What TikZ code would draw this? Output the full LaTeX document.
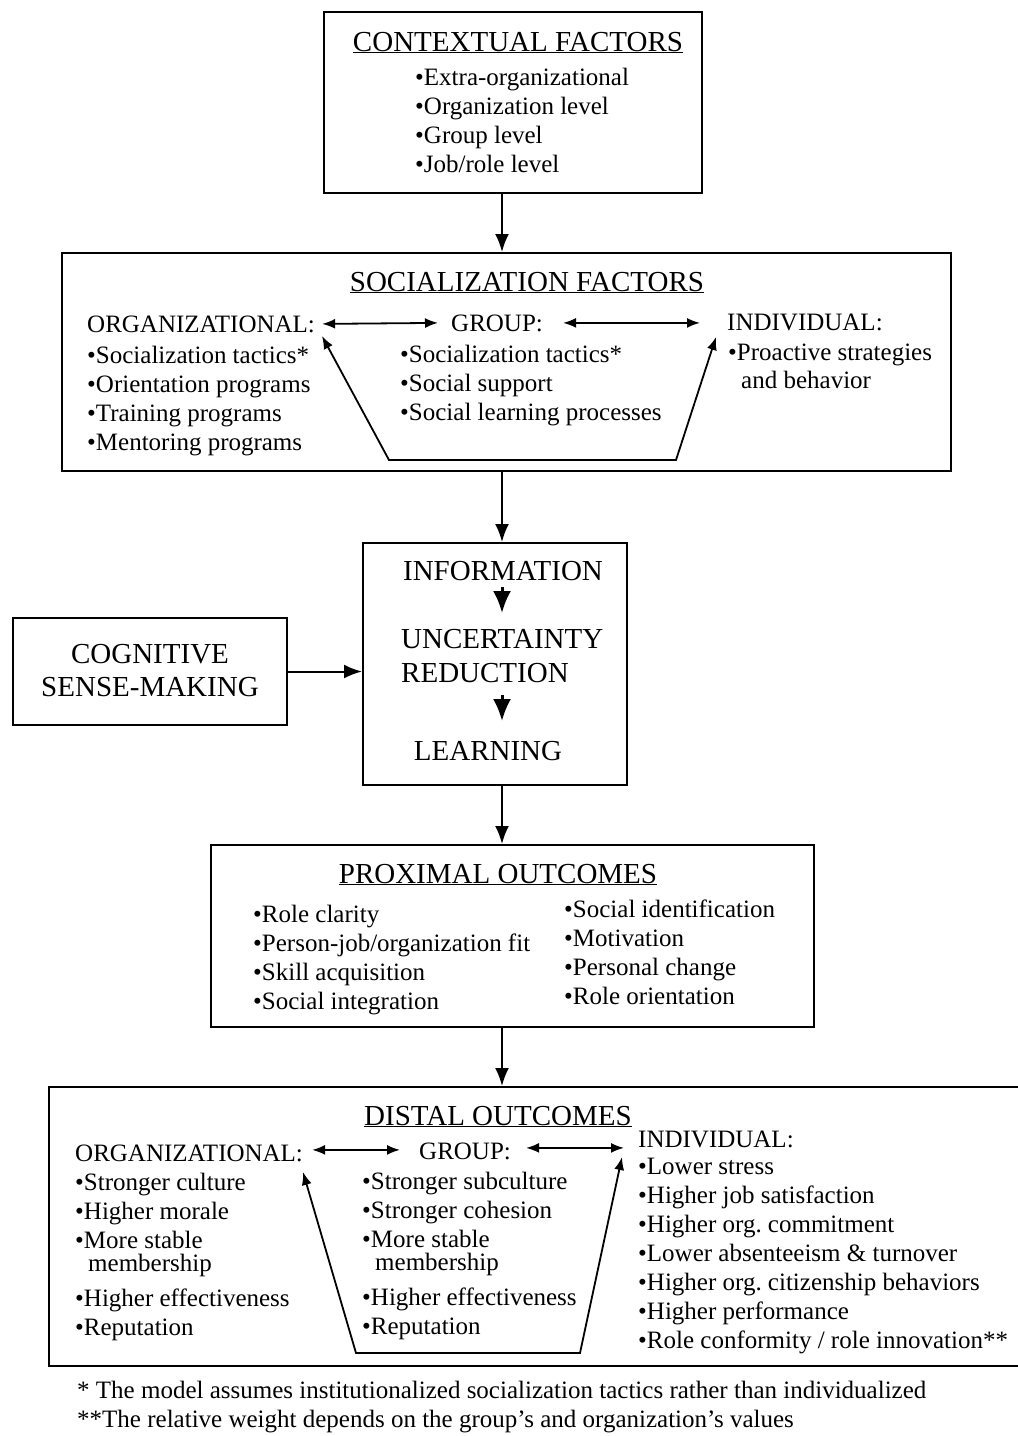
\documentclass[tikz,border=0pt]{standalone}
\usepackage{fontspec}
\setmainfont{Liberation Serif}
\usetikzlibrary{arrows.meta,calc}
\frenchspacing
\begin{document}
\begin{tikzpicture}[x=1pt,y=-1pt,
  box/.style={draw, line width=2pt, inner sep=0pt},
  ttl/.style={font=\fontsize{29}{33}\selectfont, inner sep=0pt},
  hdr/.style={font=\fontsize{25}{29}\selectfont, inner sep=0pt, anchor=base west},
  lst/.style={font=\fontsize{25}{29}\selectfont, align=left, inner sep=0pt, anchor=north west},
  tight/.style={font=\fontsize{25}{23}\selectfont},
  note/.style={font=\fontsize{25}{29}\selectfont, inner sep=0pt, anchor=north west},
  flow/.style={line width=2pt, -{Latex[length=18pt,width=14pt]}},
  link/.style={line width=1.8pt, {Latex[length=13pt,width=10pt]}-{Latex[length=13pt,width=10pt]}},
  tick/.style={line width=3pt, -{Latex[length=22pt,width=18pt]}}
]
\useasboundingbox (0,0) rectangle (1018,1436);
\clip (0,0) rectangle (1018,1436);
\coordinate (spine) at (502,0);

% ---------- boxes ----------
\node[box, minimum width=378pt, minimum height=181pt] (ctx)  at (513,102.5) {};
\node[box, minimum width=889pt, minimum height=218pt] (soc)  at (506.5,362) {};
\node[box, minimum width=264pt, minimum height=242pt] (cen)  at (495,664) {};
\node[box, minimum width=274pt, minimum height=107pt] (cog)  at (150,671.5) {};
\node[box, minimum width=603pt, minimum height=182pt] (prox) at (512.5,936) {};
\node[box, minimum width=976pt, minimum height=279pt] (dist) at (537,1226.5) {};

% ---------- main flow ----------
\draw[flow] (ctx.south -| spine) -- (soc.north -| spine);
\draw[flow] (soc.south -| spine) -- (cen.north -| spine);
\draw[flow] (cen.south -| spine) -- (prox.north -| spine);
\draw[flow] (prox.south -| spine) -- (dist.north -| spine);
\draw[flow] (cog.east) -- (cog.east -| cen.west);

% ---------- contextual factors ----------
\node[ttl, anchor=base] (ctxT) at (518,51) {\underline{CONTEXTUAL FACTORS}};
\node[lst] (ctxL) at (415,68) {•Extra-organizational\\•Organization level\\•Group level\\•Job/role level};

% ---------- socialization factors ----------
\node[ttl, anchor=base] (socT) at (527,291) {\underline{SOCIALIZATION FACTORS}};
\node[hdr] (sorg) at (87,332) {ORGANIZATIONAL:};
\node[hdr] (sgrp) at (451,331) {GROUP:};
\node[hdr] (sind) at (727,330) {INDIVIDUAL:};
\node[lst] (sorgL) at (87,346) {•Socialization tactics*\\•Orientation programs\\•Training programs\\•Mentoring programs};
\node[lst] (sgrpL) at (400,345) {•Socialization tactics*\\•Social support\\•Social learning processes};
\node[lst, font=\fontsize{25}{28}\selectfont] (sindL) at (728,344) {•Proactive strategies\\\hspace*{13pt}and behavior};
\draw[link] ($(sorg.east)+(7,0)$) -- ($(sgrp.west)+(-13,0)$);
\draw[link] ($(sgrp.east)+(20,0)$) -- ($(sgrp.east -| sind.west)+(-27,0)$);
\coordinate (sA) at (322,336);
\coordinate (sB) at (389,460);
\coordinate (sC) at (676,460);
\coordinate (sD) at (716,337);
\draw[link] (sA) -- (sB) -- (sC) -- (sD);

% ---------- information / uncertainty reduction / learning ----------
\node[ttl] (info) at (503,571) {INFORMATION};
\node[ttl, anchor=west] (unc) at (401,639) {UNCERTAINTY};
\node[ttl, anchor=west] (red) at (401,673) {REDUCTION};
\node[ttl] (learn) at (488,751) {LEARNING};
\draw[tick] ($(info.south -| spine)+(0,6)$) -- ($(unc.north -| spine)+(0,-16)$);
\draw[tick] ($(red.south -| spine)+(0,12)$) -- ($(learn.north -| spine)+(0,-20)$);

\node[ttl, align=center] (cogT) at (150,671) {COGNITIVE\\SENSE-MAKING};

% ---------- proximal outcomes ----------
\node[ttl, anchor=base] (proxT) at (498,883) {\underline{PROXIMAL OUTCOMES}};
\node[lst] (proxL) at (253,905) {•Role clarity\\•Person-job/organization fit\\•Skill acquisition\\•Social integration};
\node[lst] (proxR) at (564,900) {•Social identification\\•Motivation\\•Personal change\\•Role orientation};

% ---------- distal outcomes ----------
\node[ttl, anchor=base] (distT) at (498,1125) {\underline{DISTAL OUTCOMES}};
\node[hdr] (dorg) at (75,1161) {ORGANIZATIONAL:};
\node[hdr] (dgrp) at (419,1159) {GROUP:};
\node[hdr] (dind) at (638,1147) {INDIVIDUAL:};
\draw[link] ($(dorg.east)+(9,-3)$) -- ($(dgrp.west)+(-19,-1)$);
\draw[link] ($(dgrp.east)+(15,-3)$) -- ($(dgrp.east -| dind.west)+(-14,-3)$);

\node[lst] (dorgA) at (75,1173) {•Stronger culture\\•Higher morale};
\node[lst, tight] (dorgB) at (75,1231) {•More stable\\\hspace*{13pt}membership};
\node[lst] (dorgC) at (75,1289) {•Higher effectiveness\\•Reputation};
\node[lst] (dgrpA) at (362,1172) {•Stronger subculture\\•Stronger cohesion};
\node[lst, tight] (dgrpB) at (362,1230) {•More stable\\\hspace*{13pt}membership};
\node[lst] (dgrpC) at (362,1288) {•Higher effectiveness\\•Reputation};
\node[lst] (dindL) at (638,1158) {•Lower stress\\•Higher job satisfaction\\•Higher org. commitment\\•Lower absenteeism \& turnover\\•Higher org. citizenship behaviors\\•Higher performance\\•Role conformity / role innovation**};

\coordinate (dA) at (303,1172);
\coordinate (dB) at (356,1353);
\coordinate (dC) at (580,1353);
\coordinate (dD) at (622,1157);
\draw[link] (dA) -- (dB) -- (dC) -- (dD);

% ---------- footnotes ----------
\node[note] (fn1) at (77,1381) {* The model assumes institutionalized socialization tactics rather than individualized};
\node[note] (fn2) at (77,1410) {**The relative weight depends on the group’s and organization’s values};
\end{tikzpicture}
\end{document}
